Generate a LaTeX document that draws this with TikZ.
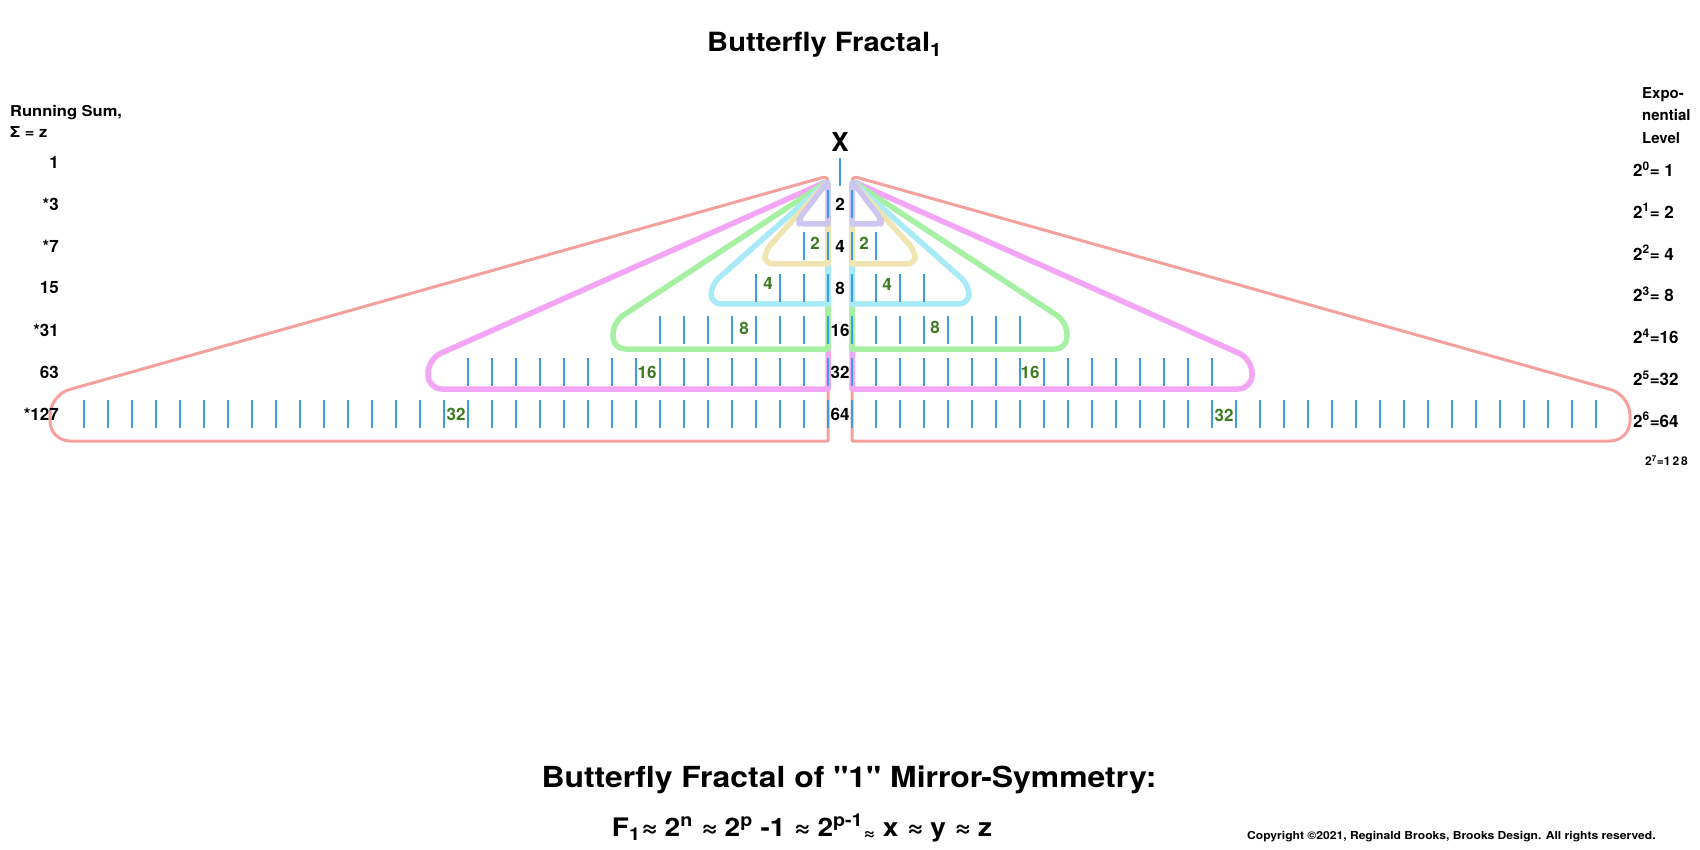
\documentclass[tikz,border=0pt]{standalone}
\usepackage{fontspec}
\setmainfont{TeX Gyre Heros}
\newfontfamily\widefont{TeX Gyre Heros}[FakeStretch=1.1]
\usepackage{tikz}
\usetikzlibrary{positioning}

\definecolor{tickblue}{HTML}{3C9AE8}
\definecolor{cntgreen}{HTML}{3B7A1F}
\definecolor{wsalmon}{HTML}{F4A09C}
\definecolor{wpink}{HTML}{F3A6F5}
\definecolor{wgreen}{HTML}{A6F0A4}
\definecolor{wcyan}{HTML}{A8EAF7}
\definecolor{wyellow}{HTML}{F0E4B0}
\definecolor{wlavender}{HTML}{CDC6F0}

\begin{document}
\begin{tikzpicture}[x=1pt,y=-1pt,
	tickline/.style={draw=tickblue,line width=2pt},
	wing/.style={line width=5.5pt,line join=round},
	midnum/.style={font=\fontsize{17}{20}\selectfont\bfseries,inner sep=0pt},
	cnt/.style={font=\fontsize{17}{20}\selectfont\bfseries,text=cntgreen,inner sep=0pt},
	sumlbl/.style={font=\fontsize{17}{20}\selectfont\bfseries,anchor=east,inner sep=0pt},
	explbl/.style={font=\fontsize{17}{20}\selectfont\bfseries,anchor=west,inner sep=0pt}]
	\useasboundingbox[fill=white] (0,0) rectangle (1700,850);

	% both wings, the right one mirrored
	\foreach \s/\sh in {1/0,-1/1680}{
		\begin{scope}[xshift=\sh pt,xscale=\s]
			\draw[wing,wsalmon,line width=3pt] (828,176) -- (828,441) [rounded corners=20pt] -- (50,441) -- (50,395) [rounded corners=5pt] -- cycle;
			\draw[wing,wpink] (828,181) -- (828,389) [rounded corners=14pt] -- (428,389) -- (428,359) [rounded corners=4pt] -- cycle;
			\draw[wing,wgreen] (828,181) -- (828,349) [rounded corners=12pt] -- (613,349) -- (613,322) [rounded corners=4pt] -- cycle;
			\draw[wing,wcyan] (828,181) -- (828,304) [rounded corners=10pt] -- (711,304) -- (711,285) [rounded corners=4pt] -- cycle;
			\draw[wing,wyellow] (828,181) -- (828,264) [rounded corners=8pt] -- (765,264) -- (765,251) [rounded corners=4pt] -- cycle;
			\draw[wing,wlavender] (828,181) -- (828,224) [rounded corners=5pt] -- (799,224) -- (799,219) [rounded corners=3pt] -- cycle;
			\foreach \n [count=\k] in {1,2,4,8,16,32}
				\foreach \i in {1,...,\n}
					\draw[tickline] ({828-24*(\i-1)},{148+42*\k}) -- ++(0,28);
		\end{scope}
	}

	\node[font=\fontsize{26}{30}\selectfont\bfseries,inner sep=0pt] (X) at (840,142) {X};
	\draw[tickline] (840,158) -- (840,186);

	\foreach \v [count=\k] in {2,4,8,16,32,64}
		\node[midnum] (mid\v) at (840,{162+42*\k}) {\v};

	% counts in each half
	\node[cnt] (cl2) at (815,243) {2};
	\node[cnt] (cr2) at (864,243) {2};
	\node[cnt] (cl4) at (768,283) {4};
	\node[cnt] (cr4) at (887,284) {4};
	\node[cnt] (cl8) at (744,328) {8};
	\node[cnt] (cr8) at (935,327) {8};
	\node[cnt] (cl16) at (647,372) {16};
	\node[cnt] (cr16) at (1030,372) {16};
	\node[cnt] (cl32) at (456,414) {32};
	\node[cnt] (cr32) at (1224,415) {32};

	% running sum column
	\node[anchor=north west,align=left,inner sep=0pt,font=\widefont\fontsize{15}{21}\selectfont\bfseries] (runsum) at (10,105) {Running Sum,\\Σ = z};
	\foreach \v [count=\k from 0] in {1,*3,*7,15,*31,63,*127}
		\node[sumlbl] (sum\k) at (59,{162+42*\k}) {\v};

	% exponential level column
	\node[anchor=north west,align=left,inner sep=0pt,font=\fontsize{15}{22.5}\selectfont\bfseries] (explev) at (1642,87) {Expo-\\nential\\Level};
	\foreach \e/\v in {0/{= 1},1/{= 2},2/{= 4},3/{= 8},4/{=16},5/{=32},6/{=64}}
		\node[explbl] (exp\e) at (1633,{169+41.8*\e}) {2\textsuperscript{\e}\v};
	\node[explbl,font=\fontsize{12}{14}\selectfont\bfseries] (exp7) at (1645,461) {2\textsuperscript{7}=1\,2\,8};

	\node[font=\widefont\fontsize{26.5}{30}\selectfont\bfseries,inner sep=0pt,anchor=base west] (title) at (707,52) {Butterfly Fractal\textsubscript{1}};
	\node[font=\widefont\fontsize{29}{32}\selectfont\bfseries,inner sep=0pt] (subtitle) at (849,780) {Butterfly Fractal of "1" Mirror-Symmetry:};
	\node[font=\widefont\fontsize{25.5}{30}\selectfont\bfseries,inner sep=0pt,anchor=base] (formula) at (802,836) {F\textsubscript{1}≈ 2\textsuperscript{n} ≈ 2\textsuperscript{p} -1 ≈ 2\textsuperscript{p-1}\textsubscript{≈} x ≈ y ≈ z};
	\node[font=\widefont\fontsize{11}{12}\selectfont\bfseries,inner sep=0pt,anchor=base west] (copy) at (1247,839) {Copyright ©2021, Reginald Brooks, Brooks Design. All rights reserved.};
\end{tikzpicture}
\end{document}
